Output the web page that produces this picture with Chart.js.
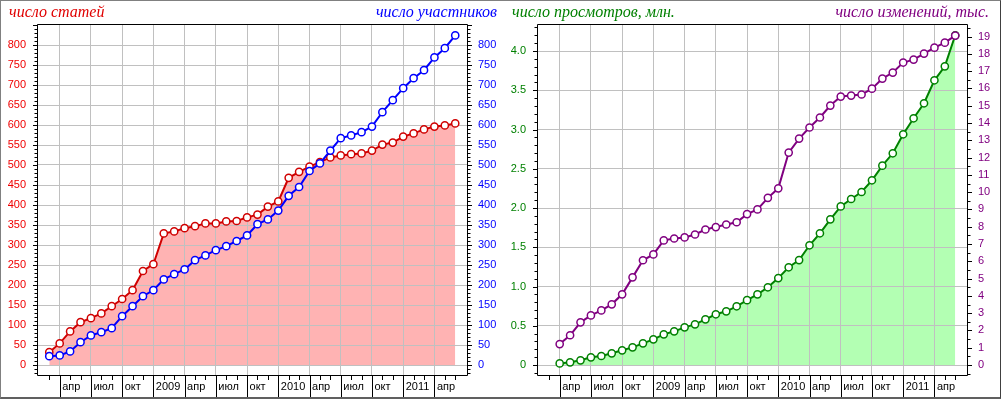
<!DOCTYPE html>
<html>
<head>
<meta charset="utf-8">
<script src="https://cdn.jsdelivr.net/npm/chart.js@4.4.1/dist/chart.umd.min.js"></script>
<style>
html, body { margin: 0; padding: 0; background: #fff; }
#wrap { position: relative; width: 1001px; height: 399px; overflow: hidden; }
#wrap canvas { position: absolute; top: 0; }
#frame {
    position: absolute; left: 0; top: 0; width: 1001px; height: 399px; box-sizing: border-box;
    border-top: 1px solid #808080; border-left: 1px solid #808080;
    border-right: 1px solid #404040; border-bottom: 2px solid #606060;
    pointer-events: none;
}
</style>
</head>
<body>
<div id="wrap">
    <canvas id="c1" width="500" height="399" style="left:0"></canvas>
    <canvas id="c2" width="500" height="399" style="left:500px"></canvas>
    <div id="frame"></div>
</div>
<script>
// months, one point per month start (index = x value)
const months = [
    '2008-03', '2008-04', '2008-05', '2008-06', '2008-07', '2008-08', '2008-09', '2008-10', '2008-11', '2008-12',
    '2009-01', '2009-02', '2009-03', '2009-04', '2009-05', '2009-06', '2009-07', '2009-08', '2009-09', '2009-10', '2009-11', '2009-12',
    '2010-01', '2010-02', '2010-03', '2010-04', '2010-05', '2010-06', '2010-07', '2010-08', '2010-09', '2010-10', '2010-11', '2010-12',
    '2011-01', '2011-02', '2011-03', '2011-04', '2011-05', '2011-06'
];
// quarter boundaries (month index) and their labels
const quarterTicks = [1, 4, 7, 10, 13, 16, 19, 22, 25, 28, 31, 34, 37];
const quarterLabels = ['апр', 'июл', 'окт', '2009', 'апр', 'июл', 'окт', '2010', 'апр', 'июл', 'окт', '2011', 'апр'];

// left chart
const articles = [32, 54, 84, 107, 117, 129, 147, 165, 187, 235, 252, 329, 334, 342, 347, 354, 354, 359, 360, 369,
    376, 396, 409, 468, 483, 496, 507, 519, 524, 527, 529, 536, 551, 556, 571, 579, 589, 596, 599, 604];
const participants = [22, 24, 34, 57, 74, 82, 92, 122, 147, 172, 187, 214, 227, 239, 262, 274, 287, 297, 310, 324,
    352, 364, 386, 423, 445, 485, 504, 536, 567, 574, 582, 596, 632, 662, 692, 717, 737, 769, 792, 824];

// right chart
const views = [null, 0.02, 0.034, 0.06, 0.098, 0.115, 0.149, 0.187, 0.225, 0.276, 0.327, 0.391, 0.429, 0.480, 0.518,
    0.582, 0.646, 0.684, 0.748, 0.826, 0.90, 0.99, 1.107, 1.245, 1.337, 1.525, 1.678, 1.856, 2.02, 2.115, 2.204,
    2.353, 2.539, 2.697, 2.939, 3.143, 3.334, 3.627, 3.805, 4.20];
const edits = [null, 1.21, 1.72, 2.47, 2.87, 3.16, 3.51, 4.09, 5.07, 6.06, 6.40, 7.21, 7.32, 7.38, 7.55, 7.84, 7.98,
    8.13, 8.26, 8.73, 9.0, 9.67, 10.22, 12.29, 13.10, 13.74, 14.32, 15.01, 15.53, 15.59, 15.65, 15.99, 16.57, 16.92,
    17.50, 17.67, 18.02, 18.36, 18.65, 19.06];

Chart.defaults.font.family = '"Liberation Sans", Arial, sans-serif';
Chart.defaults.font.size = 11;

const toPoints = arr => arr.map((v, i) => ({ x: i, y: v }));

// frame, tick marks, quarter separators and the four titles
const decor = {
    id: 'decor',
    afterDraw(chart, args, opts) {
        const ctx = chart.ctx;
        const a = chart.chartArea;
        ctx.save();
        ctx.strokeStyle = '#000';
        ctx.lineWidth = 1;
        ctx.beginPath();
        ['yL', 'yR'].forEach(id => {
            const s = chart.scales[id];
            s.ticks.forEach(t => {
                const y = Math.round(s.getPixelForValue(t.value)) + 0.5;
                const len = t.major ? 4 : 2.5;
                if (id === 'yL') { ctx.moveTo(a.left, y); ctx.lineTo(a.left - len, y); }
                else { ctx.moveTo(a.right + 1, y); ctx.lineTo(a.right + 1 + len, y); }
            });
        });
        const xs = chart.scales.x;
        xs.ticks.forEach(t => {
            const x = Math.round(xs.getPixelForValue(t.value)) + 0.5;
            ctx.moveTo(x, a.bottom);
            ctx.lineTo(x, t.major ? chart.height : a.bottom + 4);
        });
        // plot frame
        ctx.moveTo(a.left + 0.5, a.top + 0.5); ctx.lineTo(a.right + 0.5, a.top + 0.5);
        ctx.lineTo(a.right + 0.5, a.bottom - 0.5); ctx.lineTo(a.left + 0.5, a.bottom - 0.5);
        ctx.closePath();
        ctx.stroke();

        ctx.font = 'italic 16px "Liberation Serif", "Times New Roman", serif';
        ctx.textBaseline = 'alphabetic';
        opts.titles.forEach(t => {
            ctx.fillStyle = t.color;
            ctx.textAlign = t.align;
            ctx.fillText(t.text, t.x, t.y);
        });
        ctx.restore();
    }
};

function xScale() {
    return {
        type: 'linear', position: 'bottom', min: -1.18, max: 40.13,
        afterFit: s => { s.height = 23; },
        afterBuildTicks: s => {
            s.ticks = months.map((m, i) => ({ value: i, major: quarterTicks.includes(i) }));
        },
        border: { display: false },
        grid: {
            drawTicks: false,
            color: c => (c.tick && c.tick.major) ? '#c0c0c0' : 'rgba(0,0,0,0)'
        },
        ticks: {
            autoSkip: false, maxRotation: 0, align: 'start', labelOffset: 2.5, padding: 4, color: '#000',
            callback: v => { const k = quarterTicks.indexOf(v); return k < 0 ? '' : quarterLabels[k]; }
        }
    };
}

// y scale: tick marks every `step`, labels/grid every `major` steps
function yScale(pos, min, max, lo, hi, step, major, labelMax, color, fmt, showGrid) {
    return {
        type: 'linear', position: pos, min: min, max: max,
        afterFit: s => { s.width = pos === 'left' ? 37 : 33; },
        afterBuildTicks: s => {
            const t = [];
            for (let k = lo; k <= hi; k++) t.push({ value: k * step, major: k % major === 0 });
            s.ticks = t;
        },
        border: { display: false },
        grid: {
            display: showGrid, drawTicks: false,
            color: c => (c.tick && c.tick.major) ? '#c0c0c0' : 'rgba(0,0,0,0)'
        },
        ticks: {
            autoSkip: false, padding: 11, color: color,
            callback: function (v) {
                const k = Math.round(v / step);
                if (k % major !== 0 || k < 0 || k > labelMax) return '';
                return fmt(v);
            }
        }
    };
}

function lineSet(label, data, color, axis, fillColor) {
    return {
        label: label, data: toPoints(data), yAxisID: axis,
        borderColor: color, borderWidth: 2,
        pointRadius: 3.6, pointBorderWidth: 1.5, pointBackgroundColor: '#fff', pointBorderColor: color,
        fill: fillColor ? 'origin' : false, backgroundColor: fillColor || 'transparent',
        tension: 0
    };
}

function baseOptions(scales, titles) {
    return {
        responsive: false, animation: false, devicePixelRatio: 1,
        layout: { padding: { top: 24, left: 0, right: 0, bottom: 0 } },
        plugins: {
            legend: { display: false }, tooltip: { enabled: false },
            filler: { drawTime: 'beforeDraw' },
            decor: { titles: titles }
        },
        scales: scales
    };
}

new Chart(document.getElementById('c1'), {
    type: 'line',
    data: {
        datasets: [
            lineSet('число участников', participants, '#0000ff', 'yR'),
            lineSet('число статей', articles, '#d00000', 'yL', '#ffb3b3')
        ]
    },
    options: baseOptions({
        x: xScale(),
        yL: yScale('left', -27.5, 852.5, -2, 85, 10, 5, 80, '#f00000', v => String(Math.round(v)), true),
        yR: yScale('right', -27.5, 852.5, -2, 85, 10, 5, 80, '#0000ff', v => String(Math.round(v)), false)
    }, [
        { text: 'число статей', color: '#e00000', align: 'left', x: 9, y: 17 },
        { text: 'число участников', color: '#0000ff', align: 'right', x: 497, y: 17 }
    ]),
    plugins: [decor]
});

new Chart(document.getElementById('c2'), {
    type: 'line',
    data: {
        datasets: [
            lineSet('число изменений, тыс.', edits, '#800080', 'yR'),
            lineSet('число просмотров, млн.', views, '#008000', 'yL', '#b3ffb3')
        ]
    },
    options: baseOptions({
        x: xScale(),
        yL: yScale('left', -0.14, 4.344, -1, 43, 0.1, 5, 40, '#008000', v => (Math.abs(v) < 1e-9 ? '0' : v.toFixed(1)), true),
        yR: yScale('right', -0.637, 19.73, -1, 39, 0.5, 2, 38, '#800080', v => String(Math.round(v)), false)
    }, [
        { text: 'число просмотров, млн.', color: '#008000', align: 'left', x: 12, y: 17 },
        { text: 'число изменений, тыс.', color: '#800080', align: 'right', x: 489, y: 17 }
    ]),
    plugins: [decor]
});
</script>
</body>
</html>
